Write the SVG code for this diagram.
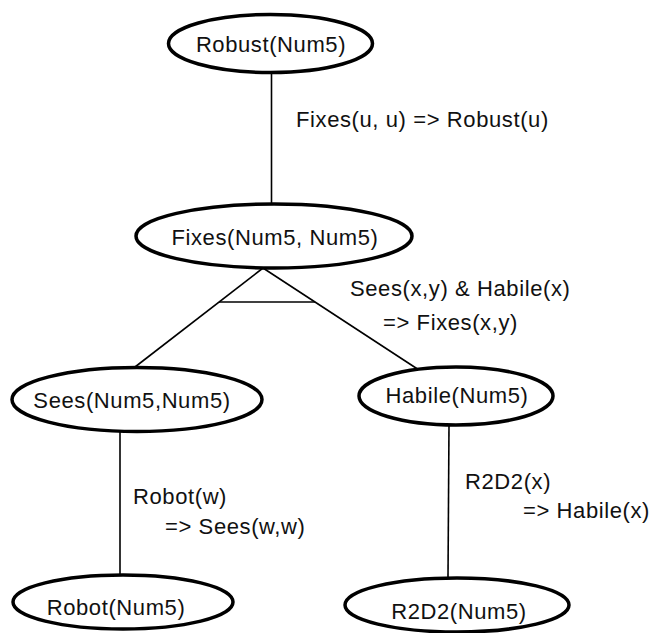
<svg xmlns="http://www.w3.org/2000/svg" width="652" height="633" viewBox="0 0 652 633">
<style>
.node ellipse{fill:#fff;stroke:#000;stroke-width:3.5}
.node text{font-family:"Liberation Sans",Arial,sans-serif;font-size:22px;letter-spacing:0.6px;text-anchor:middle;fill:#111}
.lbl{font-family:"Liberation Sans",Arial,sans-serif;font-size:22px;letter-spacing:0.6px;fill:#111}
.edge{stroke:#000;stroke-width:1.6;fill:none}
</style>
<rect width="652" height="633" fill="#fff"/>
<g id="connectors">
<line class="edge" x1="271.5" y1="73" x2="271.5" y2="205"/>
<line class="edge" x1="263" y1="268" x2="135" y2="367"/>
<line class="edge" x1="263" y1="268" x2="419" y2="370"/>
<line class="edge" x1="219" y1="302" x2="315" y2="302"/>
<line class="edge" x1="120" y1="432" x2="120" y2="575"/>
<line class="edge" x1="449" y1="425" x2="448" y2="578"/>
<text class="lbl" x="296" y="127">Fixes(u, u) =&gt; Robust(u)</text>
<text class="lbl" x="350" y="296">Sees(x,y) &amp; Habile(x)</text>
<text class="lbl" x="383" y="330">=&gt; Fixes(x,y)</text>
<text class="lbl" x="133" y="504">Robot(w)</text>
<text class="lbl" x="165" y="534">=&gt; Sees(w,w)</text>
<text class="lbl" x="465" y="489">R2D2(x)</text>
<text class="lbl" x="523" y="518">=&gt; Habile(x)</text>
</g>
<g id="n-robust" class="node"><ellipse cx="270.5" cy="43.5" rx="102" ry="29"/><text x="271" y="52">Robust(Num5)</text></g>
<g id="n-fixes" class="node"><ellipse cx="274" cy="236" rx="138" ry="32"/><text x="275" y="245">Fixes(Num5, Num5)</text></g>
<g id="n-sees" class="node"><ellipse cx="137" cy="399.5" rx="125" ry="32"/><text x="132" y="408">Sees(Num5,Num5)</text></g>
<g id="n-habile" class="node"><ellipse cx="456" cy="396" rx="97" ry="29"/><text x="457" y="403">Habile(Num5)</text></g>
<g id="n-robot" class="node"><ellipse cx="123" cy="602" rx="110" ry="27"/><text x="116" y="615">Robot(Num5)</text></g>
<g id="n-r2d2" class="node"><ellipse cx="457" cy="605" rx="112" ry="27"/><text x="459" y="619">R2D2(Num5)</text></g>
</svg>
